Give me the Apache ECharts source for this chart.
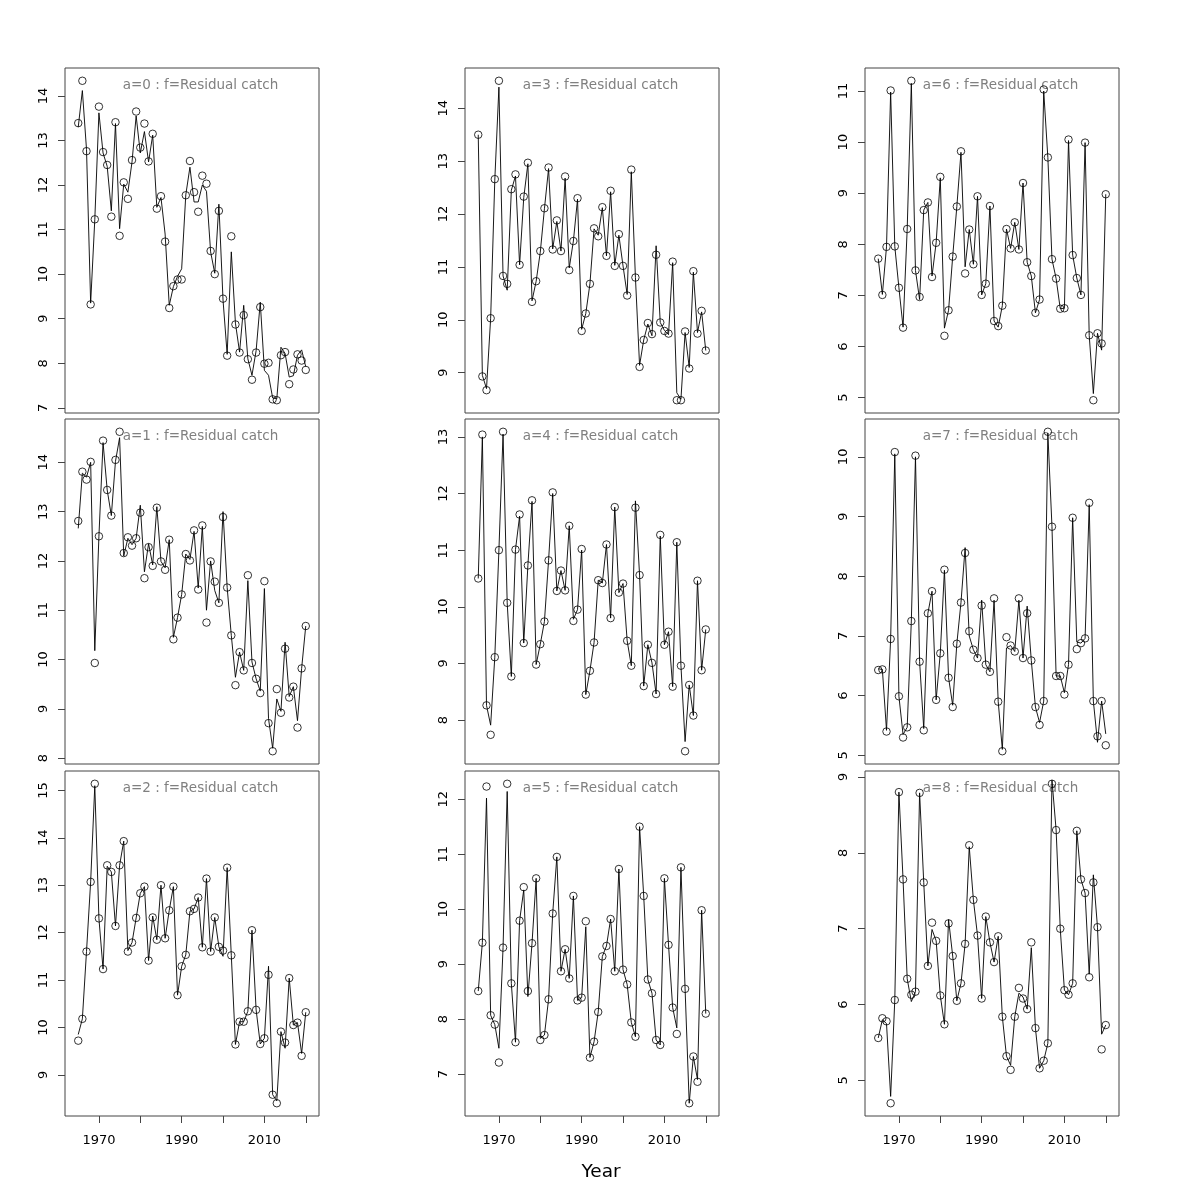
<!DOCTYPE html>
<html>
<head>
<meta charset="utf-8">
<script src="https://cdn.jsdelivr.net/npm/echarts@6/dist/echarts.min.js"></script>
<style>html,body{margin:0;padding:0;background:#fff}#c{width:1200px;height:1200px}</style>
</head>
<body>
<div id="c"></div>
<script>
const years = [1965,1966,1967,1968,1969,1970,1971,1972,1973,1974,1975,1976,1977,1978,1979,1980,1981,1982,1983,1984,1985,1986,1987,1988,1989,1990,1991,1992,1993,1994,1995,1996,1997,1998,1999,2000,2001,2002,2003,2004,2005,2006,2007,2008,2009,2010,2011,2012,2013,2014,2015,2016,2017,2018,2019,2020];

const panelNames = ["a=0 : f=Residual catch","a=1 : f=Residual catch","a=2 : f=Residual catch","a=3 : f=Residual catch","a=4 : f=Residual catch","a=5 : f=Residual catch","a=6 : f=Residual catch","a=7 : f=Residual catch","a=8 : f=Residual catch"];

const xTicks = [1970,1980,1990,2000,2010,2020];
const xTickLabels = [1970,1990,2010];
const xAxisTitle = "Year";

// observed (points)
const obs0 = [13.39,14.34,12.76,9.32,11.23, 13.76,12.74,12.45,11.29,13.41,10.86,12.06,11.69,12.56,13.65, 12.84,13.38,12.53,13.15,11.47,11.75,10.73,9.24,9.73,9.88, 9.88,11.77,12.54,11.84,11.40,12.21,12.03,10.52,10.00,11.42, 9.45,8.17,10.85,8.87,8.24,9.08,8.09,7.63,8.24,9.26, 7.99,8.01,7.19,7.17,8.18,8.25,7.53,7.86,8.20,8.06,7.85];
const obs1 = [12.81,13.81,13.65,14.01,9.93, 12.50,14.44,13.44,12.92,14.05,14.62,12.16,12.48,12.31,12.46, 12.98,11.65,12.28,11.90,13.08,11.99,11.82,12.43,10.41,10.85, 11.32,12.14,12.01,12.62,11.42,12.72,10.75,11.99,11.58,11.15, 12.89,11.46,10.49,9.48,10.15,9.78,11.71,9.93,9.61,9.32, 11.59,8.71,8.14,9.40,8.92,10.22,9.23,9.45,8.62,9.82,10.68];
const obs2 = [9.72,10.18,11.60,13.07,15.14, 12.30,11.23,13.42,13.28,12.14,13.42,13.93,11.60,11.79,12.31, 12.83,12.97,11.41,12.32,11.85,13.00,11.88,12.47,12.97,10.68, 11.29,11.53,12.45,12.50,12.74,11.69,13.14,11.60,12.32,11.70, 11.62,13.37,11.52,9.64,10.12,10.12,10.34,12.05,10.37,9.65, 9.77,11.11,8.58,8.40,9.91,9.68,11.04,10.05,10.10,9.40,10.32];
const obs3 = [13.50,8.93,8.67,10.03,12.66, 14.52,10.83,10.68,12.47,12.75,11.04,12.33,12.97,10.34,10.73, 11.30,12.11,12.88,11.33,11.88,11.30,12.71,10.94,11.49,12.30, 9.79,10.12,10.68,11.73,11.58,12.13,11.21,12.44,11.02,11.62, 11.02,10.46,12.84,10.80,9.11,9.62,9.94,9.73,11.23,9.95, 9.79,9.74,11.10,8.48,8.48,9.78,9.08,10.92,9.74,10.17,9.42];
const obs4 = [10.50,13.04,8.26,7.74,9.11, 11.00,13.09,10.07,8.77,11.01,11.63,9.36,10.73,11.88,8.98, 9.34,9.74,10.82,12.02,10.28,10.64,10.29,11.43,9.75,9.95, 11.02,8.45,8.87,9.37,10.47,10.42,11.10,9.80,11.76,10.25, 10.41,9.40,8.96,11.75,10.56,8.60,9.33,9.01,8.46,11.27, 9.33,9.56,8.59,11.14,8.96,7.45,8.62,8.08,10.46,8.88,9.60];
const obs5 = [8.51,9.39,12.23,8.07,7.90, 7.21,9.30,12.28,8.65,7.58,9.79,10.40,8.51,9.38,10.56, 7.62,7.71,8.36,9.92,10.95,8.87,9.27,8.74,10.24,8.34, 8.39,9.78,7.30,7.59,8.13,9.14,9.33,9.82,8.87,10.73, 8.90,8.63,7.94,7.68,11.50,10.24,8.72,8.47,7.62,7.53, 10.56,9.35,8.21,7.73,10.76,8.55,6.47,7.32,6.86,9.98,8.10];
const obs6 = [7.72,7.01,7.95,11.01,7.96, 7.15,6.37,8.30,11.20,7.49,6.97,8.67,8.82,7.36,8.03, 9.32,6.21,6.71,7.76,8.74,9.82,7.43,8.29,7.61,8.94, 7.01,7.23,8.75,6.50,6.40,6.80,8.30,7.92,8.43,7.90, 9.20,7.65,7.38,6.66,6.92,11.03,9.70,7.71,7.33,6.74, 6.75,10.05,7.79,7.34,7.01,9.99,6.22,4.95,6.26,6.06,8.98];
const obs7 = [6.43,6.44,5.40,6.95,10.08, 5.99,5.30,5.47,7.25,10.02,6.57,5.42,7.38,7.75,5.93, 6.71,8.11,6.30,5.81,6.87,7.56,8.39,7.08,6.77,6.63, 7.51,6.52,6.40,7.63,5.90,5.07,6.98,6.84,6.74,7.63, 6.63,7.38,6.59,5.81,5.51,5.91,10.42,8.83,6.33,6.33, 6.02,6.52,8.98,6.78,6.88,6.96,9.23,5.91,5.32,5.91,5.17];
const obs8 = [5.56,5.82,5.78,4.70,6.06, 8.80,7.65,6.34,6.13,6.17,8.79,7.61,6.51,7.08,6.84, 6.12,5.74,7.07,6.64,6.05,6.28,6.80,8.10,7.38,6.91, 6.08,7.16,6.82,6.56,6.90,5.84,5.32,5.14,5.84,6.22, 6.08,5.94,6.82,5.69,5.16,5.26,5.49,8.91,8.30,7.00, 6.19,6.13,6.28,8.29,7.65,7.47,6.36,7.61,7.02,5.41,5.73];

// fitted (line)
const fit0 = [13.30,14.12,12.80,9.35,11.22, 13.62,12.72,12.42,11.42,13.38,11.02,12.02,11.84,12.52,13.55, 12.72,13.20,12.52,13.12,11.50,11.72,10.90,9.30,9.72,9.95, 10.12,11.78,12.40,11.62,11.62,12.00,11.86,10.50,10.02,11.57, 9.42,8.20,10.50,8.90,8.25,9.30,8.10,7.73,8.28,9.37, 7.84,7.73,7.22,7.20,8.36,8.22,7.69,7.72,8.18,8.30,7.92];
const fit1 = [12.66,13.78,13.70,14.00,10.18, 12.50,14.40,13.44,12.92,14.02,14.50,12.10,12.46,12.33,12.46, 13.13,11.78,12.35,11.92,13.10,11.99,11.86,12.43,10.45,10.85, 11.32,12.14,12.03,12.60,11.45,12.70,11.00,12.00,11.40,11.15, 13.00,11.46,10.49,9.64,10.15,9.78,11.60,9.95,9.61,9.36, 11.44,8.80,8.20,9.20,8.95,10.35,9.25,9.45,8.76,9.82,10.68];
const fit2 = [9.85,10.18,11.60,13.07,15.10, 12.30,11.23,13.40,13.28,12.14,13.42,13.93,11.62,11.79,12.31, 12.83,12.97,11.41,12.35,11.85,13.00,11.88,12.47,12.97,10.68, 11.29,11.53,12.45,12.50,12.74,11.69,13.14,11.60,12.32,11.70, 11.50,13.37,11.52,9.64,10.12,10.12,10.34,12.05,10.37,9.65, 9.77,11.29,8.58,8.45,9.91,9.56,11.04,10.05,10.10,9.45,10.32];
const fit3 = [13.50,8.95,8.70,10.03,12.64, 14.40,10.83,10.56,12.45,12.72,11.04,12.31,12.95,10.36,10.73, 11.28,12.10,12.86,11.34,11.86,11.30,12.68,10.98,11.49,12.28, 9.82,10.12,10.68,11.72,11.60,12.12,11.21,12.42,11.03,11.60, 11.02,10.48,12.80,10.80,9.14,9.62,9.92,9.70,11.40,9.95, 9.80,9.72,11.08,8.62,8.50,9.76,9.10,10.90,9.76,10.15,9.42];
const fit4 = [10.50,13.00,8.26,7.91,9.11, 11.00,13.05,10.07,8.77,11.01,11.60,9.36,10.73,11.86,8.98, 9.34,9.74,10.82,12.00,10.28,10.64,10.29,11.43,9.78,9.95, 11.00,8.45,8.87,9.37,10.47,10.42,11.10,9.80,11.76,10.25, 10.41,9.40,8.96,11.87,10.56,8.60,9.33,9.01,8.46,11.25, 9.33,9.56,8.59,11.14,8.96,7.62,8.62,8.08,10.46,8.88,9.60];
const fit5 = [8.51,9.39,12.02,8.07,7.90, 7.47,9.30,12.14,8.65,7.58,9.79,10.35,8.41,9.38,10.56, 7.65,7.71,8.36,9.92,10.95,8.87,9.27,8.74,10.24,8.34, 8.39,9.68,7.30,7.59,8.13,9.14,9.33,9.82,8.87,10.73, 8.90,8.63,7.94,7.68,11.50,10.24,8.72,8.47,7.62,7.53, 10.56,9.35,8.21,7.84,10.76,8.55,6.47,7.32,6.90,9.98,8.10];
const fit6 = [7.72,7.02,7.95,10.98,7.96, 7.15,6.38,8.30,11.15,7.49,6.92,8.67,8.82,7.38,8.03, 9.30,6.36,6.71,7.76,8.74,9.80,7.56,8.29,7.61,8.94, 7.01,7.23,8.75,6.50,6.38,6.80,8.30,7.92,8.43,7.90, 9.20,7.65,7.38,6.66,6.92,11.00,9.70,7.71,7.33,6.74, 6.75,10.03,7.79,7.34,7.01,9.99,6.22,5.08,6.26,5.93,8.98];
const fit7 = [6.45,6.44,5.42,6.95,10.05, 5.99,5.35,5.47,7.25,10.00,6.57,5.45,7.38,7.75,5.93, 6.71,8.10,6.30,5.84,6.87,7.56,8.48,7.00,6.77,6.63, 7.60,6.52,6.40,7.60,5.90,5.10,6.80,6.84,6.74,7.60, 6.63,7.50,6.59,5.81,5.55,5.91,10.40,8.83,6.33,6.33, 6.05,6.52,8.98,6.90,6.88,6.96,9.20,5.91,5.22,5.91,5.36];
const fit8 = [5.56,5.80,5.75,4.79,6.06, 8.80,7.65,6.34,6.04,6.17,8.79,7.61,6.51,6.99,6.84, 6.12,5.74,7.12,6.64,6.05,6.28,6.80,8.08,7.38,6.91, 6.08,7.16,6.82,6.56,6.90,5.84,5.32,5.20,5.84,6.15, 6.10,5.94,6.75,5.69,5.16,5.26,5.49,8.96,8.30,7.00, 6.19,6.13,6.28,8.29,7.65,7.47,6.40,7.71,7.02,5.61,5.73];

// y-axis tick labels per panel
const yTicks0 = [7,8,9,10,11,12,13,14];
const yTicks1 = [8,9,10,11,12,13,14];
const yTicks2 = [9,10,11,12,13,14,15];
const yTicks3 = [9,10,11,12,13,14];
const yTicks4 = [8,9,10,11,12,13];
const yTicks5 = [7,8,9,10,11,12];
const yTicks6 = [5,6,7,8,9,10,11];
const yTicks7 = [5,6,7,8,9,10];
const yTicks8 = [5,6,7,8,9];

const obsAll = [obs0,obs1,obs2,obs3,obs4,obs5,obs6,obs7,obs8];
const fitAll = [fit0,fit1,fit2,fit3,fit4,fit5,fit6,fit7,fit8];
const yTicksAll = [yTicks0,yTicks1,yTicks2,yTicks3,yTicks4,yTicks5,yTicks6,yTicks7,yTicks8];

const colLeft = [65, 465, 865];
const rowTop = [68, 419, 771];
const W = 254, H = 345;
const FONT = "DejaVu Sans";
const plain = v => String(v);

const grids = [], xAxes = [], yAxes = [], series = [], graphics = [];
for (let k = 0; k < 9; k++) {
  const col = Math.floor(k / 3), row = k % 3;
  const bottom = row === 2;
  const o = obsAll[k];
  const lo = Math.min(...o), hi = Math.max(...o), r = hi - lo;
  grids.push({left: colLeft[col], top: rowTop[row], width: W, height: H,
    show: true, borderColor: '#444', borderWidth: 1, backgroundColor: 'transparent'});
  xAxes.push({type: 'value', gridIndex: k, min: 1961.8, max: 2023.2,
    axisLine: {show: false}, splitLine: {show: false},
    axisTick: {show: bottom, customValues: xTicks, length: 7, lineStyle: {color: '#444', width: 1}},
    axisLabel: {show: bottom, customValues: xTickLabels, formatter: plain, margin: 18, fontSize: 13, color: '#000', fontFamily: FONT}});
  yAxes.push({type: 'value', gridIndex: k, min: lo - 0.04 * r, max: hi + 0.04 * r,
    axisLine: {show: false}, splitLine: {show: false},
    axisTick: {show: true, customValues: yTicksAll[k], length: 7, lineStyle: {color: '#444', width: 1}},
    axisLabel: {show: true, customValues: yTicksAll[k], formatter: plain, rotate: 90, margin: 15, fontSize: 13, color: '#000', fontFamily: FONT}});
  series.push({type: 'line', xAxisIndex: k, yAxisIndex: k, showSymbol: false, silent: true,
    data: years.map((y, i) => [y, fitAll[k][i]]),
    lineStyle: {color: '#000', width: 0.9}});
  series.push({type: 'scatter', xAxisIndex: k, yAxisIndex: k, silent: true,
    symbol: 'circle', symbolSize: 7.5,
    data: years.map((y, i) => [y, o[i]]),
    itemStyle: {color: 'rgba(0,0,0,0)', borderColor: '#000', borderWidth: 0.8, opacity: 1}});
  graphics.push({type: 'text', x: colLeft[col] + W / 2 + 8.5, y: rowTop[row] + 17,
    style: {text: panelNames[k], fill: '#808080', font: '13.5px "' + FONT + '"', textAlign: 'center', textVerticalAlign: 'middle'}});
}
graphics.push({type: 'text', x: 601, y: 1172,
  style: {text: xAxisTitle, fill: '#000', font: '18.5px "' + FONT + '"', textAlign: 'center', textVerticalAlign: 'middle'}});

const chart = echarts.init(document.getElementById('c'), null, {renderer: 'canvas'});
chart.setOption({
  animation: false,
  backgroundColor: '#fff',
  textStyle: {fontFamily: FONT},
  grid: grids, xAxis: xAxes, yAxis: yAxes, series: series, graphic: graphics
});
</script>
</body>
</html>
